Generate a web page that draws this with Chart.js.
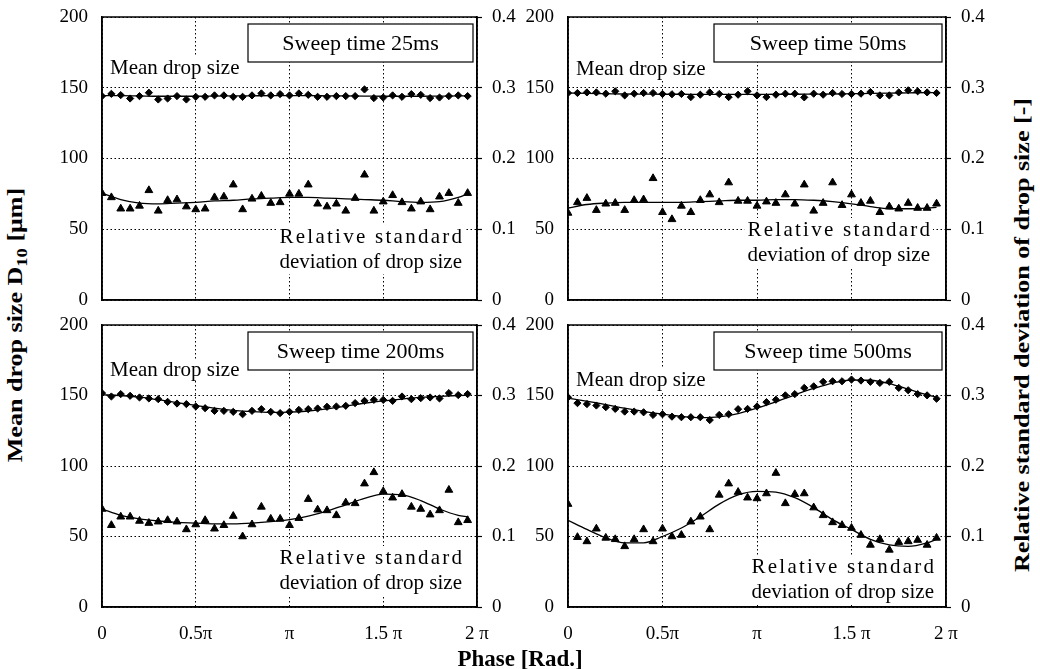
<!DOCTYPE html>
<html>
<head>
<meta charset="utf-8">
<script src="https://cdn.jsdelivr.net/npm/chart.js@4.4.1/dist/chart.umd.min.js"></script>
<style>
  html, body { margin: 0; padding: 0; background: #fff; }
  #wrap { position: relative; width: 1040px; height: 669px; overflow: hidden; }
  canvas { position: absolute; }
  .title { position: absolute; font: bold 21px "Liberation Serif", "Times New Roman", serif; color: #000; white-space: nowrap; }
  .title sub { font-size: 15px; }
</style>
</head>
<body>
<div id="wrap">
  <canvas id="c25" width="480" height="312" style="left:40px;top:0px"></canvas>
  <canvas id="c50" width="492" height="312" style="left:508px;top:0px"></canvas>
  <canvas id="c200" width="480" height="345" style="left:40px;top:310px"></canvas>
  <canvas id="c500" width="492" height="345" style="left:508px;top:310px"></canvas>
  <div class="title" style="left:17px;top:325px;transform:translate(-50%,-50%) rotate(-90deg) scaleX(1.24)">Mean drop size D<sub>10</sub> [μm]</div>
  <div class="title" style="left:1022px;top:335px;transform:translate(-50%,-50%) rotate(-90deg) scaleX(1.24)">Relative standard deviation of drop size [-]</div>
  <div class="title" style="left:520px;top:659px;font-size:23px;transform:translate(-50%,-50%)">Phase [Rad.]</div>
</div>
<script>
// phase in units of pi
const phase = [0, 0.05, 0.1, 0.15, 0.2, 0.25, 0.3, 0.35, 0.4, 0.45,
    0.5, 0.55, 0.6, 0.65, 0.7, 0.75, 0.8, 0.85, 0.9, 0.95,
    1, 1.05, 1.1, 1.15, 1.2, 1.25, 1.3, 1.35, 1.4, 1.45,
    1.5, 1.55, 1.6, 1.65, 1.7, 1.75, 1.8, 1.85, 1.9, 1.95];
const fitPhase = [0, 0.1, 0.2, 0.3, 0.4, 0.5, 0.6, 0.7, 0.8, 0.9, 1,
    1.1, 1.2, 1.3, 1.4, 1.5, 1.6, 1.7, 1.8, 1.9, 1.95];
const xTickLabels = ['0', '0.5π', 'π', '1.5 π', '2 π'];

// sweep time 25ms
const mean25 = [144.1, 145.7, 144.8, 142.4, 144.1, 146.5, 141.7, 142.4, 144.1, 141.7,
    143.6, 143.6, 144.6, 144.6, 143.6, 143.6, 144.6, 146.0, 144.6, 145.5,
    144.6, 146.0, 145.0, 143.6, 143.6, 144.1, 144.1, 144.1, 148.8, 142.7,
    143.1, 144.6, 143.6, 145.5, 145.0, 142.7, 143.1, 144.1, 144.6, 144.1];
const rsd25 = [0.151, 0.145, 0.129, 0.129, 0.133, 0.155, 0.126, 0.141, 0.142, 0.132,
    0.128, 0.129, 0.145, 0.146, 0.163, 0.128, 0.143, 0.147, 0.137, 0.138,
    0.150, 0.150, 0.163, 0.136, 0.132, 0.136, 0.126, 0.144, 0.177, 0.126,
    0.139, 0.148, 0.138, 0.129, 0.139, 0.128, 0.146, 0.151, 0.137, 0.151];
const meanFit25 = [144.5, 144.4, 144.2, 144.0, 144.0, 144.0, 144.1, 144.2, 144.3, 144.4, 144.4,
    144.4, 144.3, 144.2, 144.1, 144.0, 144.0, 144.0, 144.1, 144.2, 144.3];
const rsdFit25 = [0.151, 0.142, 0.137, 0.136, 0.137, 0.138, 0.140, 0.141, 0.143, 0.144, 0.145,
    0.145, 0.144, 0.143, 0.142, 0.141, 0.139, 0.138, 0.139, 0.145, 0.150];

// sweep time 50ms
const mean50 = [146.3, 146.3, 146.7, 146.7, 145.8, 147.5, 144.6, 145.8, 146.3, 146.3,
    145.6, 145.4, 145.6, 143.4, 145.1, 146.7, 145.6, 143.4, 145.1, 147.5,
    144.6, 143.4, 145.1, 145.8, 145.8, 143.2, 145.8, 145.1, 146.3, 145.6,
    145.6, 145.8, 147.0, 144.6, 144.6, 146.7, 148.2, 147.5, 146.7, 146.3];
const rsd50 = [0.123, 0.138, 0.144, 0.127, 0.136, 0.137, 0.127, 0.141, 0.142, 0.172,
    0.124, 0.114, 0.133, 0.124, 0.141, 0.149, 0.138, 0.166, 0.140, 0.140,
    0.133, 0.139, 0.137, 0.149, 0.136, 0.163, 0.126, 0.137, 0.166, 0.134,
    0.149, 0.137, 0.140, 0.124, 0.132, 0.129, 0.137, 0.130, 0.130, 0.136];
const meanFit50 = [146.3, 146.0, 145.8, 145.6, 145.5, 145.4, 145.4, 145.3, 145.3, 145.3, 145.3,
    145.4, 145.4, 145.5, 145.6, 145.8, 146.0, 146.2, 146.4, 146.6, 146.6];
const rsdFit50 = [0.130, 0.135, 0.137, 0.138, 0.138, 0.138, 0.138, 0.139, 0.140, 0.141, 0.141,
    0.142, 0.142, 0.141, 0.139, 0.136, 0.132, 0.129, 0.129, 0.130, 0.131];

// sweep time 200ms
const mean200 = [151.7, 149.3, 151.0, 149.8, 148.6, 147.9, 147.4, 145.5, 144.3, 143.9,
    142.2, 141.0, 139.1, 139.1, 138.4, 136.7, 139.1, 140.3, 138.4, 137.5,
    138.4, 139.8, 140.3, 140.8, 142.0, 142.2, 142.7, 144.6, 146.2, 146.9,
    146.9, 146.2, 149.3, 147.4, 148.1, 148.6, 147.9, 151.7, 150.3, 151.0];
const rsd200 = [0.139, 0.116, 0.128, 0.128, 0.122, 0.119, 0.121, 0.123, 0.121, 0.110,
    0.117, 0.123, 0.111, 0.116, 0.129, 0.100, 0.117, 0.142, 0.125, 0.125,
    0.116, 0.126, 0.153, 0.138, 0.137, 0.130, 0.148, 0.147, 0.175, 0.191,
    0.164, 0.155, 0.160, 0.142, 0.139, 0.131, 0.137, 0.166, 0.120, 0.123];
const meanFit200 = [150.5, 150.0, 148.8, 147.0, 145.0, 143.0, 141.0, 139.5, 138.5, 138.0, 138.2,
    139.0, 140.5, 142.5, 144.5, 146.2, 147.5, 148.6, 149.4, 150.0, 150.2];
const rsdFit200 = [0.139, 0.130, 0.125, 0.122, 0.120, 0.119, 0.118, 0.118, 0.119, 0.121, 0.124,
    0.129, 0.136, 0.145, 0.154, 0.160, 0.159, 0.151, 0.139, 0.130, 0.128];

// sweep time 500ms
const mean500 = [148.7, 144.6, 143.9, 142.9, 141.7, 140.5, 138.6, 138.6, 138.1, 136.2,
    136.7, 135.0, 134.6, 134.6, 134.6, 132.6, 136.2, 136.7, 140.3, 140.5,
    142.2, 145.3, 147.0, 150.1, 151.0, 155.4, 156.5, 159.7, 160.1, 160.1,
    161.3, 160.6, 159.7, 158.9, 159.7, 155.4, 153.7, 151.0, 150.1, 147.7];
const rsd500 = [0.146, 0.099, 0.093, 0.111, 0.098, 0.096, 0.086, 0.096, 0.110, 0.093,
    0.111, 0.100, 0.102, 0.121, 0.128, 0.110, 0.159, 0.175, 0.163, 0.155,
    0.154, 0.161, 0.190, 0.147, 0.160, 0.161, 0.141, 0.130, 0.120, 0.116,
    0.112, 0.102, 0.088, 0.096, 0.081, 0.092, 0.093, 0.095, 0.088, 0.098];
const meanFit500 = [148.2, 146.0, 143.5, 141.0, 138.8, 136.8, 135.2, 134.3, 134.8, 137.2, 141.0,
    145.5, 150.5, 155.0, 158.8, 161.0, 160.8, 158.5, 154.5, 150.5, 148.8];
const rsdFit500 = [0.123, 0.110, 0.098, 0.091, 0.091, 0.100, 0.112, 0.128, 0.146, 0.159, 0.164,
    0.163, 0.155, 0.141, 0.124, 0.110, 0.096, 0.088, 0.086, 0.091, 0.096];

const SERIF = '"Liberation Serif", "Times New Roman", serif';
Chart.defaults.font.family = SERIF;
Chart.defaults.font.size = 19;
Chart.defaults.color = '#000';

// box label, text labels and solid frame for each panel
const panelText = {
    id: 'panelText',
    beforeDatasetsDraw(chart, args, o) {
        const ctx = chart.ctx;
        const a = chart.chartArea;
        ctx.save();

        const bx = a.left + 146, by = a.top + 7;
        const bw = a.right - 4 - bx, bh = 38;
        ctx.fillStyle = '#fff';
        ctx.fillRect(bx, by, bw, bh);
        ctx.strokeStyle = '#000';
        ctx.lineWidth = 1.2;
        ctx.strokeRect(bx, by, bw, bh);
        ctx.fillStyle = '#000';
        ctx.font = '22px ' + SERIF;
        ctx.textAlign = 'center';
        ctx.textBaseline = 'middle';
        ctx.fillText(o.title, bx + bw / 2, by + bh / 2 + 1);

        ctx.font = '21px ' + SERIF;
        ctx.textAlign = 'left';
        const mw = ctx.measureText('Mean drop size').width;
        ctx.fillStyle = '#fff';
        ctx.fillRect(a.left + 6, a.top + o.meanY - 11, mw + 4, 22);
        ctx.fillStyle = '#000';
        ctx.fillText('Mean drop size', a.left + 8, a.top + o.meanY);

        const xr = a.right - o.rsdRight;
        const y1 = a.top + o.rsdY, y2 = y1 + 25;
        const line1 = 'Relative standard', line2 = 'deviation of drop size';
        const w2 = ctx.measureText(line2).width;
        const xl = xr - w2;
        ctx.fillStyle = '#fff';
        ctx.fillRect(xl - 3, y1 - 12, w2 + 6, y2 - y1 + 24);
        ctx.fillStyle = '#000';
        ctx.fillText(line2, xl, y2);
        const w1 = ctx.measureText(line1).width;
        ctx.letterSpacing = ((w2 - w1) / (line1.length - 1)) + 'px';
        ctx.fillText(line1, xl, y1);
        ctx.letterSpacing = '0px';
        ctx.restore();
    },
    afterDraw(chart) {
        const ctx = chart.ctx;
        const a = chart.chartArea;
        ctx.save();
        ctx.setLineDash([]);
        ctx.strokeStyle = '#000';
        ctx.lineWidth = 1.5;
        ctx.strokeRect(a.left, a.top, a.right - a.left, a.bottom - a.top);
        ctx.restore();
    }
};

function makePanel(id, cfg) {
    const pts = (xs, ys) => xs.map((x, i) => ({ x: x, y: ys[i] }));
    new Chart(document.getElementById(id), {
        type: 'scatter',
        data: {
            datasets: [
                {
                    data: pts(phase, cfg.mean), yAxisID: 'y',
                    pointStyle: 'rectRot', pointRadius: 3.6,
                    backgroundColor: '#000', borderColor: '#000', borderWidth: 1
                },
                {
                    data: pts(fitPhase, cfg.meanFit), yAxisID: 'y',
                    showLine: true, pointRadius: 0, borderColor: '#000', borderWidth: 1.3,
                    cubicInterpolationMode: 'monotone'
                },
                {
                    data: pts(phase, cfg.rsd), yAxisID: 'y1',
                    pointStyle: 'triangle', pointRadius: 4.5,
                    backgroundColor: '#000', borderColor: '#000', borderWidth: 1
                },
                {
                    data: pts(fitPhase, cfg.rsdFit), yAxisID: 'y1',
                    showLine: true, pointRadius: 0, borderColor: '#000', borderWidth: 1.3,
                    cubicInterpolationMode: 'monotone'
                }
            ]
        },
        options: {
            responsive: false,
            animation: false,
            layout: { padding: { top: cfg.padTop, left: 0, right: 0, bottom: 0 } },
            scales: {
                x: {
                    type: 'linear', min: 0, max: 2,
                    afterFit: s => { s.height = cfg.xHeight; s.paddingLeft = 0; s.paddingRight = 0; },
                    ticks: {
                        display: cfg.showX, stepSize: 0.5, padding: 16,
                        maxRotation: 0, autoSkip: false,
                        callback: (v, i) => xTickLabels[i]
                    },
                    grid: { color: '#000', lineWidth: 1, drawTicks: false },
                    border: { color: '#000', width: 1.5, dash: [1.5, 2.5] }
                },
                y: {
                    position: 'left', min: 0, max: 200,
                    afterFit: s => { s.width = cfg.leftW; s.paddingTop = 0; s.paddingBottom = 0; },
                    ticks: { stepSize: 50, padding: 14 },
                    grid: { color: '#000', lineWidth: 1, drawTicks: false },
                    border: { color: '#000', width: 1.5, dash: [1.5, 2.5] }
                },
                y1: {
                    position: 'right', min: 0, max: 0.4,
                    afterFit: s => { s.width = cfg.rightW; s.paddingTop = 0; s.paddingBottom = 0; },
                    ticks: {
                        stepSize: 0.1, padding: 10,
                        callback: v => v === 0 ? '0' : v.toFixed(1)
                    },
                    grid: { drawOnChartArea: false, drawTicks: true, tickLength: 5, tickColor: '#000', tickWidth: 1.2 },
                    border: { color: '#000', width: 1.5 }
                }
            },
            plugins: {
                legend: { display: false },
                tooltip: { enabled: false },
                panelText: cfg.text
            }
        },
        plugins: [panelText]
    });
}

makePanel('c25', {
    mean: mean25, rsd: rsd25, meanFit: meanFit25, rsdFit: rsdFit25,
    padTop: 17, xHeight: 12, leftW: 62, rightW: 43, showX: false,
    text: { title: 'Sweep time 25ms', meanY: 51, rsdY: 220, rsdRight: 15 }
});
makePanel('c50', {
    mean: mean50, rsd: rsd50, meanFit: meanFit50, rsdFit: rsdFit50,
    padTop: 17, xHeight: 12, leftW: 60, rightW: 54, showX: false,
    text: { title: 'Sweep time 50ms', meanY: 52, rsdY: 213, rsdRight: 16 }
});
makePanel('c200', {
    mean: mean200, rsd: rsd200, meanFit: meanFit200, rsdFit: rsdFit200,
    padTop: 15, xHeight: 48, leftW: 62, rightW: 43, showX: true,
    text: { title: 'Sweep time 200ms', meanY: 45, rsdY: 233, rsdRight: 15 }
});
makePanel('c500', {
    mean: mean500, rsd: rsd500, meanFit: meanFit500, rsdFit: rsdFit500,
    padTop: 15, xHeight: 48, leftW: 60, rightW: 54, showX: true,
    text: { title: 'Sweep time 500ms', meanY: 55, rsdY: 242, rsdRight: 12 }
});
</script>
</body>
</html>
